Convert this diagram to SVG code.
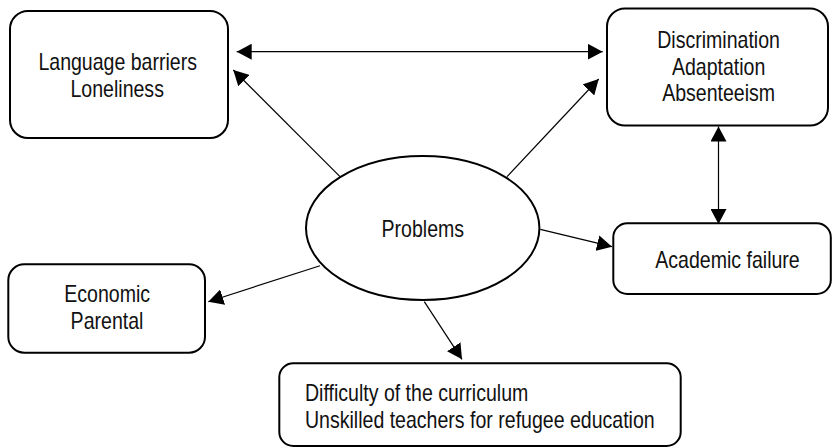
<svg xmlns="http://www.w3.org/2000/svg" width="832" height="448" viewBox="0 0 832 448">
<defs>
<style>
.box{fill:#fff;stroke:#000;stroke-width:2}
.t{font-family:"Liberation Sans",Arial,sans-serif;font-size:23px;fill:#111;text-anchor:middle}
.s{text-anchor:start}
.c{stroke:#000;stroke-width:1.2;fill:none}
</style>
<marker id="ah" markerUnits="userSpaceOnUse" markerWidth="16" markerHeight="16" refX="15" refY="8" orient="auto-start-reverse" viewBox="0 0 16 16">
<path d="M0,0 L15,8 L0,16 z" fill="#000"/>
</marker>
</defs>
<rect width="832" height="448" fill="#fff"/>
<g id="connectors">
<line class="c" x1="236.7" y1="51.7" x2="602.7" y2="51.7" marker-start="url(#ah)" marker-end="url(#ah)"/>
<line class="c" x1="340" y1="176.7" x2="233.3" y2="70" marker-end="url(#ah)"/>
<line class="c" x1="507" y1="176.7" x2="598.7" y2="79" marker-end="url(#ah)"/>
<line class="c" x1="718.5" y1="126.5" x2="718.5" y2="224" marker-start="url(#ah)" marker-end="url(#ah)"/>
<line class="c" x1="540.3" y1="229.3" x2="612" y2="246.7" marker-end="url(#ah)"/>
<line class="c" x1="320" y1="265.7" x2="208.3" y2="301.7" marker-end="url(#ah)"/>
<line class="c" x1="424.3" y1="301.7" x2="462" y2="359.3" marker-end="url(#ah)"/>
</g>
<g id="node-language">
<rect class="box" x="10" y="11" width="218" height="127" rx="18"/>
<text class="t" transform="translate(117.7,70) scale(0.85,1)">Language barriers</text>
<text class="t" transform="translate(117.2,97.3) scale(0.85,1)">Loneliness</text>
</g>
<g id="node-discrimination">
<rect class="box" x="607" y="8.5" width="221" height="117" rx="18"/>
<text class="t" transform="translate(718.6,48) scale(0.85,1)">Discrimination</text>
<text class="t" transform="translate(718.6,74.5) scale(0.85,1)">Adaptation</text>
<text class="t" transform="translate(718.6,101) scale(0.85,1)">Absenteeism</text>
</g>
<g id="node-problems">
<ellipse class="box" cx="422.7" cy="228" rx="116.7" ry="72"/>
<text class="t" transform="translate(422.8,236.7) scale(0.85,1)">Problems</text>
</g>
<g id="node-academic">
<rect class="box" x="613.3" y="223.3" width="217.5" height="70.7" rx="14"/>
<text class="t" transform="translate(727.5,268.3) scale(0.85,1)">Academic failure</text>
</g>
<g id="node-economic">
<rect class="box" x="8.3" y="264.3" width="196.7" height="88.4" rx="16"/>
<text class="t" transform="translate(107.2,301.7) scale(0.85,1)">Economic</text>
<text class="t" transform="translate(107,329) scale(0.85,1)">Parental</text>
</g>
<g id="node-difficulty">
<rect class="box" x="279.3" y="363.3" width="401.4" height="82.7" rx="14"/>
<text class="t s" transform="translate(305,400.7) scale(0.85,1)">Difficulty of the curriculum</text>
<text class="t s" transform="translate(305,428.3) scale(0.85,1)">Unskilled teachers for refugee education</text>
</g>
</svg>
